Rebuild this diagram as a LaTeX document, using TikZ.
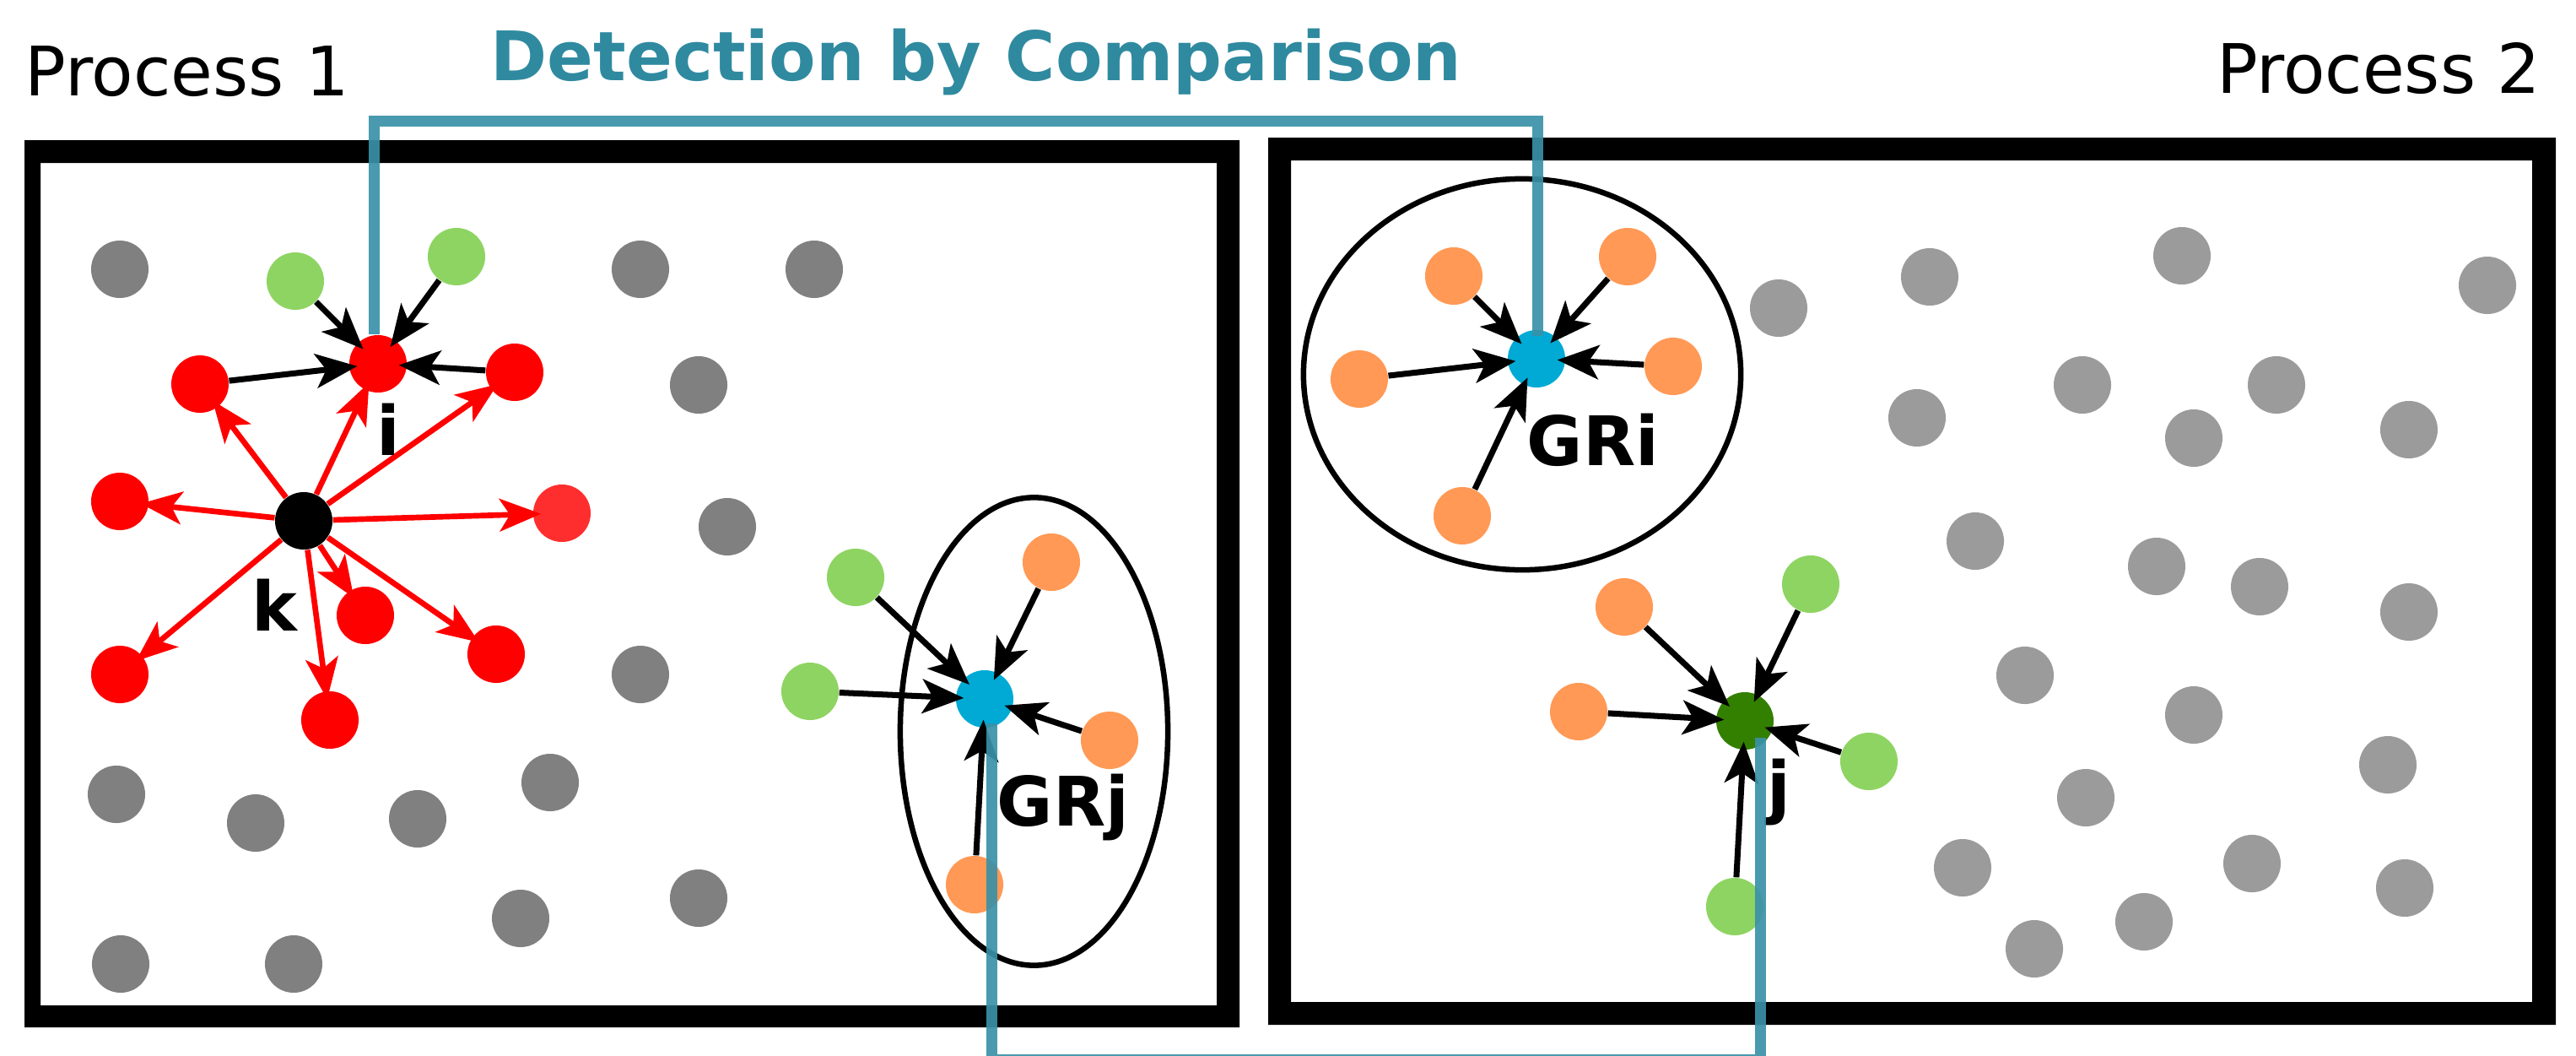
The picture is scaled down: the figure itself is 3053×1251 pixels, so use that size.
\documentclass[tikz,border=0pt]{standalone}
\usepackage{fontspec}
\setmainfont{DejaVu Sans}
\usetikzlibrary{arrows.meta}
\definecolor{dotred}{HTML}{FF0000}
\definecolor{dotlightred}{HTML}{FF2E2E}
\definecolor{dotgreen}{HTML}{8ED462}
\definecolor{dotorange}{HTML}{FF9955}
\definecolor{dotblue}{HTML}{00AAD4}
\definecolor{dotdark}{HTML}{338000}
\definecolor{grayA}{HTML}{808080}
\definecolor{grayB}{HTML}{9B9B9B}
\definecolor{titleteal}{HTML}{2F8AA0}
\definecolor{linkteal}{HTML}{3A91A8}
\tikzset{
  dot/.style={circle, inner sep=0pt, minimum size=0.68cm, draw=none, fill=#1},
  txt/.style={inner sep=0pt, font=\fontsize{23}{27}\selectfont},
  lbl/.style={inner sep=0pt, font=\fontsize{23}{27}\selectfont\bfseries},
  frame/.style={fill=black, even odd rule},
  region/.style={draw=black, line width=1.85pt},
  pull/.style={draw=black, line width=2pt,
    -{Stealth[length=14pt, width=11.5pt, inset=3.5pt]}, shorten >=-0.1cm},
  push/.style={draw=dotred, line width=1.9pt,
    -{Stealth[length=14pt, width=11pt, inset=3.5pt]}, shorten >=-0.1cm},
  link/.style={draw=linkteal, line width=3.7pt, opacity=0.92}
}
\begin{document}
\begin{tikzpicture}[x=0.01cm, y=-0.01cm]
\useasboundingbox (0,0) rectangle (3053,1251);

% process frames
\fill[frame] (29,166) rectangle (1469,1217) (48,193) rectangle (1442,1191);
\fill[frame] (1503,163) rectangle (3029,1214) (1530,190) rectangle (3001,1187);

% headings
\node[txt, anchor=base west] (p1) at (29,113) {Process 1};
\node[txt, anchor=base east] (p2) at (3012,110) {Process 2};
\node[lbl, anchor=base, text=titleteal] (title) at (1157,95) {Detection by Comparison};

% ghost regions
\draw[region] (1225.5,866.5) ellipse [x radius=1.585cm, y radius=2.77cm];
\draw[region] (1804,443.5) ellipse [x radius=2.59cm, y radius=2.315cm];

% background particles, process 1
\foreach \x/\y [count=\n] in {142/319,759/319,965/319,828/456,862/624,759/799,652/927,
  138/941,303/975,495/970,617/1088,828/1064,143/1142,348/1142}
  \node[dot=grayA] (ga\n) at (\x,\y) {};
% background particles, process 2
\foreach \x/\y [count=\n] in {2108/365,2287/328,2586/303,2948/338,2272/495,2468/456,
  2698/456,2600/519,2855/509,2341/641,2556/671,2678/695,2855/725,2400/800,2600/847,
  2830/906,2472/945,2326/1028,2669/1023,2850/1052,2541/1092,2411/1124}
  \node[dot=grayB] (gb\n) at (\x,\y) {};

% particles of process 1
\node[dot=dotred] (i) at (448,431) {};
\node[dot=black] (k) at (360,617) {};
\node[dot=dotred] (r1) at (237,455) {};
\node[dot=dotred] (r2) at (610,441) {};
\node[dot=dotred] (r3) at (142,594) {};
\node[dot=dotlightred] (r4) at (666,608) {};
\node[dot=dotred] (r5) at (142,799) {};
\node[dot=dotred] (r6) at (433,729) {};
\node[dot=dotred] (r7) at (588,775) {};
\node[dot=dotred] (r8) at (391,853) {};
\node[dot=dotgreen] (na) at (350,333) {};
\node[dot=dotgreen] (nb) at (541,304) {};
\node[dot=dotblue] (GRj) at (1167,828) {};
\node[dot=dotgreen] (nc) at (1014,684) {};
\node[dot=dotgreen] (nd) at (960,819) {};
\node[dot=dotorange] (oa) at (1246,666) {};
\node[dot=dotorange] (ob) at (1315,877) {};
\node[dot=dotorange] (oc) at (1155,1048) {};

% particles of process 2
\node[dot=dotblue] (GRi) at (1821,425) {};
\node[dot=dotorange] (od) at (1723,327) {};
\node[dot=dotorange] (oe) at (1929,304) {};
\node[dot=dotorange] (of) at (1611,449) {};
\node[dot=dotorange] (og) at (1983,434) {};
\node[dot=dotorange] (oh) at (1733,611) {};
\node[dot=dotdark] (j) at (2068,854) {};
\node[dot=dotorange] (oi) at (1925,719) {};
\node[dot=dotgreen] (ne) at (2146,692) {};
\node[dot=dotorange] (oj) at (1871,843) {};
\node[dot=dotgreen] (nf) at (2215,902) {};
\node[dot=dotgreen] (ng) at (2056,1074) {};

% interactions of k
\foreach \t in {r1,i,r2,r3,r4,r5,r6,r7,r8}
  \draw[push] (k) -- (\t);

% contributions to i, GRj, GRi and j
\foreach \s in {na,nb,r1,r2} \draw[pull] (\s) -- (i);
\foreach \s in {nc,nd,oa,ob,oc} \draw[pull] (\s) -- (GRj);
\foreach \s in {od,oe,of,og,oh} \draw[pull] (\s) -- (GRi);
\foreach \s in {oi,ne,oj,nf,ng} \draw[pull] (\s) -- (j);

% particle labels
\node[lbl, anchor=base] (li) at (460,539) {i};
\node[lbl, anchor=base] (lk) at (325,747) {k};
\node[lbl, anchor=base west] (lGRj) at (1181,978) {GRj};
\node[lbl, anchor=base west] (lGRi) at (1809,551) {GRi};
\node[lbl, anchor=base] (lj) at (2108,960) {j};

% comparison links
\coordinate (iout) at ([xshift=-0.045cm]i.north);
\coordinate (griin) at ([xshift=0.015cm, yshift=-0.08cm]GRi.north);
\coordinate (grjout) at ([shift={(8.5,29)}]GRj.center);
\coordinate (jin) at ([shift={(18,20)}]j.center);
\draw[link] (iout) -- (iout |- 0,143.5) -| (griin);
\draw[link] (grjout) -- (grjout |- 0,1255) -| (jin);
\end{tikzpicture}
\end{document}
